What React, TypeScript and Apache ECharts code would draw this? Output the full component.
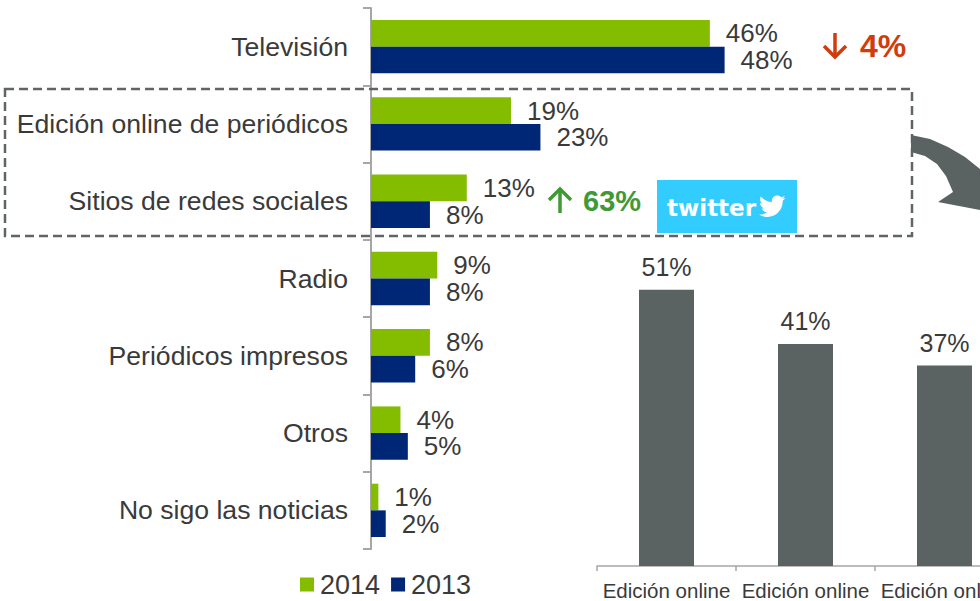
import React, { useEffect, useRef } from "react";
import * as echarts from "echarts";

const categories = [
  "Televisión",
  "Edición online de periódicos",
  "Sitios de redes sociales",
  "Radio",
  "Periódicos impresos",
  "Otros",
  "No sigo las noticias",
];
const values2014 = [46, 19, 13, 9, 8, 4, 1];
const values2013 = [48, 23, 8, 8, 6, 5, 2];
const onlineCategories = ["Edición online", "Edición online", "Edición online"];
const onlineValues = [51, 41, 37];

const GREEN = "#84BC00";
const NAVY = "#002776";
const GREY = "#5A6262";
const TEXT = "#3A3A3A";
const FONT = "'Liberation Sans', Arial, sans-serif";

const BIRD =
  "M23.954 4.569c-.885.389-1.83.654-2.825.775 1.014-.611 1.794-1.574 2.163-2.723-.951.555-2.005.959-3.127 1.184-.896-.959-2.173-1.559-3.591-1.559-2.717 0-4.92 2.203-4.92 4.917 0 .39.045.765.127 1.124C7.691 8.094 4.066 6.13 1.64 3.161c-.427.722-.666 1.561-.666 2.475 0 1.71.87 3.213 2.188 4.096-.807-.026-1.566-.248-2.228-.616v.061c0 2.385 1.693 4.374 3.946 4.827-.413.111-.849.171-1.296.171-.314 0-.615-.03-.916-.086.631 1.953 2.445 3.377 4.604 3.417-1.68 1.319-3.809 2.105-6.102 2.105-.39 0-.779-.023-1.17-.067 2.189 1.394 4.768 2.209 7.557 2.209 9.054 0 13.999-7.496 13.999-13.986 0-.209 0-.42-.015-.63.961-.689 1.8-1.56 2.46-2.548l-.047-.02z";

let registered = false;
function ensureShapes() {
  if (registered) return;
  registered = true;
  echarts.graphic.registerShape("twBird", echarts.graphic.extendPath(BIRD, {}) as any);
}

export default function App() {
  const ref = useRef<HTMLDivElement>(null);
  useEffect(() => {
    if (!ref.current) return;
    ensureShapes();
    const chart = echarts.init(ref.current, undefined, { renderer: "svg" });
    const option: any = {
      animation: false,
      textStyle: { fontFamily: FONT },
      legend: {
        data: ["2014", "2013"],
        left: 300,
        top: 571,
        padding: 0,
        itemGap: 11,
        itemWidth: 14,
        itemHeight: 14,
        icon: "rect",
        textStyle: { fontSize: 27, color: TEXT, fontFamily: FONT, padding: [0, 0, 0, 1] },
      },
      grid: [
        { left: 371, top: 8, width: 442, height: 541 },
        { left: 597, top: 241, width: 417, height: 325 },
      ],
      xAxis: [
        { type: "value", gridIndex: 0, min: 0, max: 60, show: false },
        {
          type: "category",
          gridIndex: 1,
          data: onlineCategories,
          axisLine: { lineStyle: { color: "#A6A6A6", width: 1.5 } },
          axisTick: { show: true, length: 5, lineStyle: { color: "#A6A6A6", width: 1.5 } },
          axisLabel: { interval: 0, fontSize: 20.5, color: TEXT, margin: 14, fontFamily: FONT },
        },
      ],
      yAxis: [
        {
          type: "category",
          gridIndex: 0,
          data: categories,
          inverse: true,
          axisLine: { lineStyle: { color: "#A6A6A6", width: 2 } },
          axisTick: { show: true, length: 8, lineStyle: { color: "#A6A6A6", width: 2 } },
          axisLabel: { interval: 0, fontSize: 26.6, color: TEXT, margin: 23, fontFamily: FONT },
        },
        { type: "value", gridIndex: 1, min: 0, max: 60, show: false },
      ],
      series: [
        {
          name: "2014",
          type: "bar",
          xAxisIndex: 0,
          yAxisIndex: 0,
          data: values2014,
          itemStyle: { color: GREEN },
          barGap: "0%",
          barCategoryGap: "31%",
          label: {
            show: true,
            position: "right",
            distance: 16,
            formatter: "{c}%",
            fontSize: 26,
            color: TEXT,
            fontFamily: FONT,
          },
        },
        {
          name: "2013",
          type: "bar",
          xAxisIndex: 0,
          yAxisIndex: 0,
          data: values2013,
          itemStyle: { color: NAVY },
          barGap: "0%",
          barCategoryGap: "31%",
          label: {
            show: true,
            position: "right",
            distance: 16,
            formatter: "{c}%",
            fontSize: 26,
            color: TEXT,
            fontFamily: FONT,
          },
        },
        {
          name: "online",
          type: "bar",
          xAxisIndex: 1,
          yAxisIndex: 1,
          data: onlineValues,
          barWidth: 55,
          itemStyle: { color: GREY },
          label: {
            show: true,
            position: "top",
            distance: 10,
            formatter: "{c}%",
            fontSize: 25,
            color: TEXT,
            fontFamily: FONT,
          },
        },
      ],
      graphic: [
        {
          type: "rect",
          z: 100,
          shape: { x: 5, y: 89, width: 907, height: 147 },
          style: { fill: "none", stroke: "#5F6565", lineWidth: 2.5, lineDash: [9, 5] },
        },
        {
          type: "polygon",
          z: 100,
          shape: {
            points: [
              [911, 135],
              [930, 139],
              [948, 147],
              [965, 157],
              [980, 169],
              [996, 184],
              [1012, 236],
              [980, 210],
              [938, 202],
              [953, 192],
              [946, 176],
              [937, 164],
              [925, 156],
              [911, 152],
            ],
          },
          style: { fill: GREY },
        },
        {
          type: "line",
          z: 100,
          shape: { x1: 835, y1: 33, x2: 835, y2: 56 },
          style: { stroke: "#D23B0C", lineWidth: 3.5 },
        },
        {
          type: "polyline",
          z: 100,
          shape: { points: [[824, 46], [835, 57], [846, 46]] },
          style: { stroke: "#D23B0C", lineWidth: 3.5, fill: "none" },
        },
        {
          type: "text",
          z: 100,
          style: {
            text: "4%",
            x: 860,
            y: 46,
            verticalAlign: "middle",
            fill: "#D23B0C",
            fontSize: 32,
            fontWeight: "bold",
            fontFamily: FONT,
          },
        },
        {
          type: "line",
          z: 100,
          shape: { x1: 560, y1: 190, x2: 560, y2: 213 },
          style: { stroke: "#3F9A35", lineWidth: 3.5 },
        },
        {
          type: "polyline",
          z: 100,
          shape: { points: [[549, 200], [560, 189], [571, 200]] },
          style: { stroke: "#3F9A35", lineWidth: 3.5, fill: "none" },
        },
        {
          type: "text",
          z: 100,
          style: {
            text: "63%",
            x: 583,
            y: 201,
            verticalAlign: "middle",
            fill: "#3F9A35",
            fontSize: 29,
            fontWeight: "bold",
            fontFamily: FONT,
          },
        },
        {
          type: "rect",
          z: 100,
          shape: { x: 657, y: 180, width: 140, height: 53 },
          style: { fill: "#33CCFF" },
        },
        {
          type: "text",
          z: 101,
          style: {
            text: "twitter",
            x: 667,
            y: 208,
            verticalAlign: "middle",
            fill: "#FFFFFF",
            fontSize: 23,
            fontWeight: "bold",
            fontFamily: "'DejaVu Sans', sans-serif",
          },
        },
        {
          type: "twBird",
          z: 101,
          x: 759,
          y: 193,
          scaleX: 1.1,
          scaleY: 1.1,
          style: { fill: "#FFFFFF" },
        },
      ],
    };
    chart.setOption(option);
    return () => chart.dispose();
  }, []);
  return (
    <div
      style={{
        position: "absolute",
        left: 0,
        top: 0,
        width: 980,
        height: 601,
        overflow: "hidden",
        background: "#fff",
      }}
    >
      <div ref={ref} style={{ width: 1040, height: 601 }} />
    </div>
  );
}
